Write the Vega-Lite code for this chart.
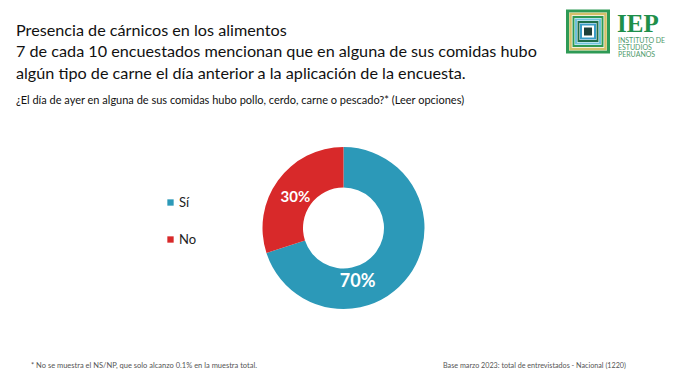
{
  "$schema": "https://vega.github.io/schema/vega-lite/v6.json",
  "width": 671,
  "height": 306,
  "autosize": {"type": "none"},
  "padding": {"left": 8, "top": 75, "right": 0, "bottom": 0},
  "background": "white",
  "config": {"view": {"stroke": null}, "font": "Lato"},
  "title": {
    "text": ["Presencia de cárnicos en los alimentos", "7 de cada 10 encuestados mencionan que en alguna de sus comidas hubo", "algún tipo de carne el día anterior a la aplicación de la encuesta."],
    "subtitle": "¿El día de ayer en alguna de sus comidas hubo pollo, cerdo, carne o pescado?* (Leer opciones)",
    "anchor": "start",
    "frame": "group",
    "orient": "top",
    "offset": -34,
    "dx": 8,
    "dy": 67,
    "font": "Lato",
    "fontSize": 16.2,
    "fontWeight": "normal",
    "lineHeight": 21.5,
    "color": "#111111",
    "subtitleFont": "Lato",
    "subtitleFontSize": 11,
    "subtitleColor": "#111111",
    "subtitlePadding": 13
  },
  "data": {
    "values": [
      {"respuesta": "Sí", "pct": 70, "orden": 1, "etiqueta": "70%"},
      {"respuesta": "No", "pct": 30, "orden": 2, "etiqueta": "30%"}
    ]
  },
  "layer": [
    {
      "mark": {"type": "arc", "innerRadius": 40.5, "outerRadius": 81},
      "encoding": {
        "theta": {"field": "pct", "type": "quantitative", "stack": true},
        "order": {"field": "orden", "type": "quantitative"},
        "color": {
          "field": "respuesta",
          "type": "nominal",
          "sort": ["Sí", "No"],
          "scale": {"domain": ["Sí", "No"], "range": ["#2C99B8", "#D8292A"]},
          "legend": {
            "title": null,
            "orient": "none",
            "legendX": 156,
            "legendY": 121,
            "symbolType": "square",
            "symbolSize": 40,
            "labelFontSize": 13,
            "labelFont": "Lato",
            "labelColor": "#222222",
            "rowPadding": 23,
            "padding": 0,
            "labelOffset": 2
          }
        }
      }
    },
    {
      "mark": {"type": "text", "radius": 57, "font": "Lato", "fontWeight": "bold", "fontSize": 15, "color": "white", "dx": -2, "dy": 3},
      "encoding": {
        "theta": {"field": "pct", "type": "quantitative", "stack": true},
        "order": {"field": "orden", "type": "quantitative"},
        "text": {"condition": {"test": "datum.respuesta === 'No'", "field": "etiqueta"}, "value": ""}
      }
    },
    {
      "mark": {"type": "text", "radius": 57, "font": "Lato", "fontWeight": "bold", "fontSize": 18, "color": "white", "dx": -32, "dy": 20},
      "encoding": {
        "theta": {"field": "pct", "type": "quantitative", "stack": true},
        "order": {"field": "orden", "type": "quantitative"},
        "text": {"condition": {"test": "datum.respuesta === 'Sí'", "field": "etiqueta"}, "value": ""}
      }
    },
    {
      "data": {"values": [{"t": "* No se muestra el NS/NP, que solo alcanzo 0.1% en la muestra total."}]},
      "mark": {"type": "text", "align": "left", "baseline": "middle", "font": "Lato", "fontSize": 7.5, "color": "#555555"},
      "encoding": {"text": {"field": "t"}, "x": {"value": 23}, "y": {"value": 291}}
    },
    {
      "data": {"values": [{"t": "Base marzo 2023: total de entrevistados - Nacional (1220)"}]},
      "mark": {"type": "text", "align": "left", "baseline": "middle", "font": "Lato", "fontSize": 7.2, "color": "#555555"},
      "encoding": {"text": {"field": "t"}, "x": {"value": 435}, "y": {"value": 291}}
    },
    {
      "data": {"values": [{"t": "IEP"}]},
      "mark": {"type": "text", "align": "left", "baseline": "alphabetic", "font": "Liberation Serif", "fontWeight": "bold", "fontSize": 25, "color": "#1E8F4A"},
      "encoding": {"text": {"field": "t"}, "x": {"value": 609}, "y": {"value": -43}}
    },
    {
      "data": {"values": [{"t": "INSTITUTO DE\nESTUDIOS\nPERUANOS"}]},
      "mark": {"type": "text", "align": "left", "baseline": "top", "lineBreak": "\n", "lineHeight": 7, "font": "Lato", "fontSize": 7, "color": "#4E9A6B"},
      "encoding": {"text": {"field": "t"}, "x": {"value": 610}, "y": {"value": -38}}
    },
    {
      "data": {"values": [{}]},
      "mark": {"type": "point", "shape": "square", "size": 1681, "filled": false, "stroke": "#2E9A55", "strokeWidth": 3, "opacity": 1},
      "encoding": {"x": {"value": 580}, "y": {"value": -43.5}}
    },
    {
      "data": {"values": [{}]},
      "mark": {"type": "point", "shape": "square", "size": 1225, "filled": false, "stroke": "#D4C06A", "strokeWidth": 2.5, "opacity": 1},
      "encoding": {"x": {"value": 580}, "y": {"value": -43.5}}
    },
    {
      "data": {"values": [{}]},
      "mark": {"type": "point", "shape": "square", "size": 841, "filled": false, "stroke": "#2E9A55", "strokeWidth": 2, "opacity": 1},
      "encoding": {"x": {"value": 580}, "y": {"value": -43.5}}
    },
    {
      "data": {"values": [{}]},
      "mark": {"type": "point", "shape": "square", "size": 576, "filled": false, "stroke": "#6EC3DD", "strokeWidth": 2, "opacity": 1},
      "encoding": {"x": {"value": 580}, "y": {"value": -43.5}}
    },
    {
      "data": {"values": [{}]},
      "mark": {"type": "point", "shape": "square", "size": 361, "filled": false, "stroke": "#1F6F4A", "strokeWidth": 2, "opacity": 1},
      "encoding": {"x": {"value": 580}, "y": {"value": -43.5}}
    },
    {
      "data": {"values": [{}]},
      "mark": {"type": "point", "shape": "square", "size": 196, "filled": false, "stroke": "#3A9CC8", "strokeWidth": 2, "opacity": 1},
      "encoding": {"x": {"value": 580}, "y": {"value": -43.5}}
    },
    {
      "data": {"values": [{}]},
      "mark": {"type": "point", "shape": "square", "size": 64, "filled": true, "color": "#1F3F3A", "opacity": 1},
      "encoding": {"x": {"value": 580}, "y": {"value": -43.5}}
    }
  ]
}
